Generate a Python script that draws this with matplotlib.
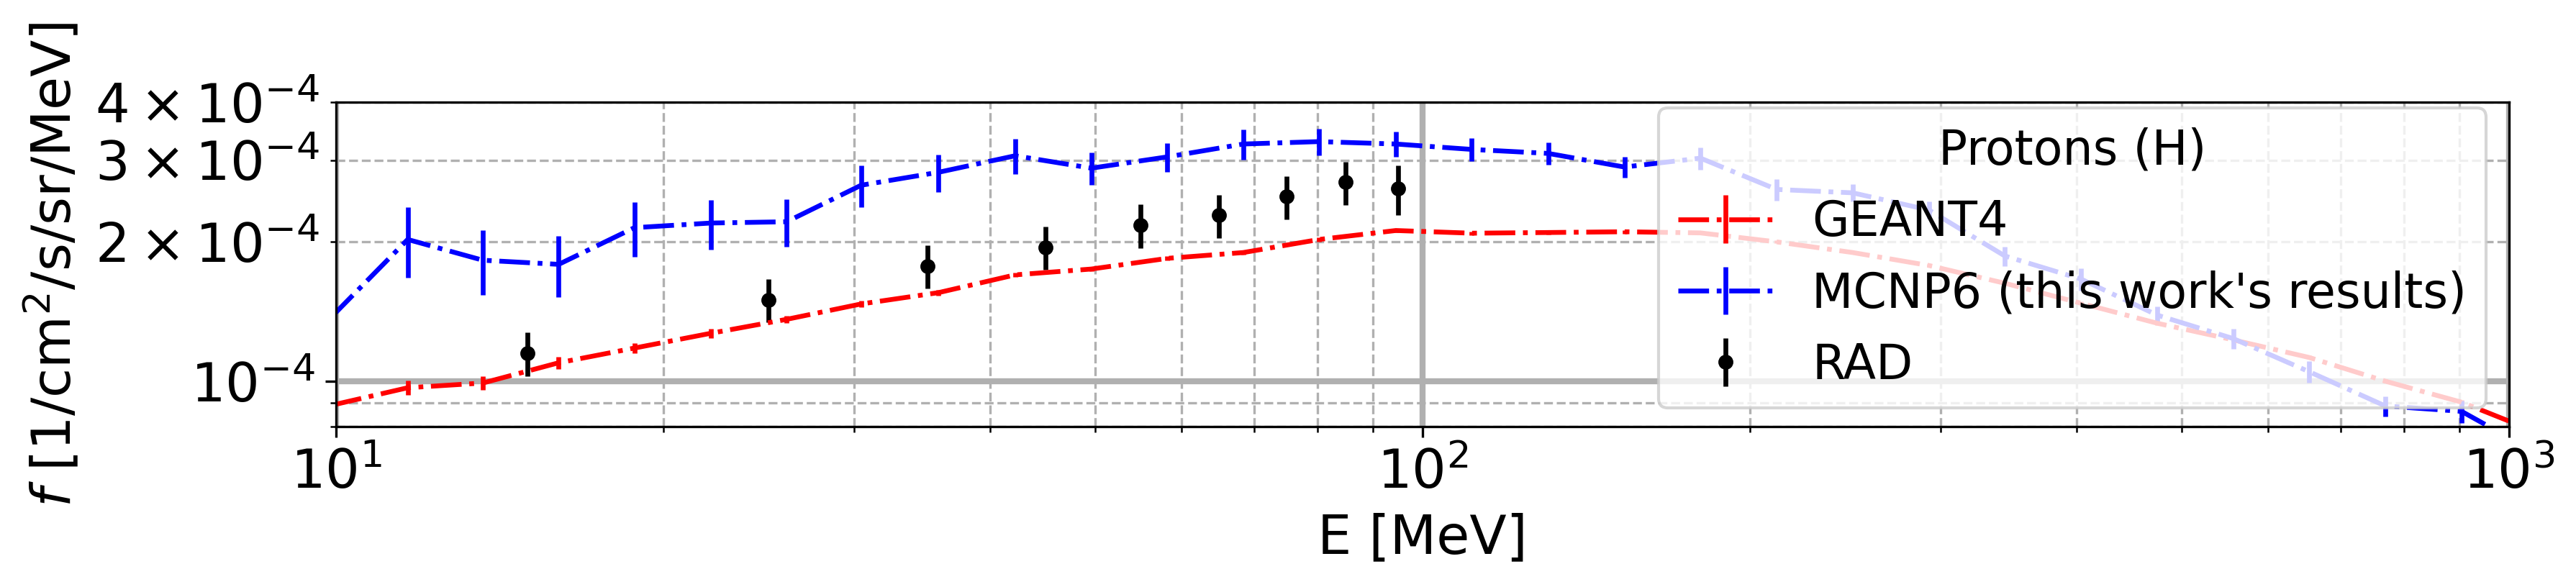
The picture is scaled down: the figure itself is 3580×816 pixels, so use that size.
import matplotlib
matplotlib.use("Agg")
import matplotlib.pyplot as plt
import numpy as np

# Energies [MeV] shared by GEANT4 and MCNP6 curves
energy = [9.9, 11.64, 13.65, 16.03, 18.82, 22.13, 25.99, 30.43, 35.86, 42.17,
          49.57, 58.23, 68.4, 80.32, 94.5, 111.0, 130.5, 153.4, 180.2, 211.8,
          248.8, 292.4, 343.5, 403.7, 474.3, 557.3, 654.8, 769.4, 904.0, 1062.0]

# GEANT4 flux (x1e-4)
geant4 = [0.889, 0.970, 0.993, 1.098, 1.181, 1.271, 1.362, 1.470, 1.555, 1.698,
          1.748, 1.843, 1.897, 2.024, 2.116, 2.088, 2.095, 2.103, 2.091, 2.000,
          1.897, 1.779, 1.629, 1.475, 1.336, 1.230, 1.127, 1.002, 0.903, 0.777]
geant4_err = [0.030, 0.034, 0.035, 0.032, 0.028, 0.030, 0.025, 0.025, 0.022, 0.020,
              0.020, 0.020, 0.020, 0.020, 0.020, 0.018, 0.018, 0.018, 0.018, 0.016,
              0.016, 0.015, 0.014, 0.013, 0.012, 0.011, 0.010, 0.009, 0.009, 0.008]

# MCNP6 flux (x1e-4)
mcnp6 = [1.377, 2.024, 1.826, 1.789, 2.146, 2.196, 2.210, 2.649, 2.825, 3.066,
         2.883, 3.049, 3.250, 3.289, 3.250, 3.164, 3.102, 2.899, 3.030, 2.594,
         2.551, 2.343, 1.865, 1.663, 1.391, 1.238, 1.050, 0.886, 0.863, 0.700]
mcnp6_err = [0.30, 0.35, 0.29, 0.27, 0.29, 0.27, 0.26, 0.27, 0.26, 0.27,
             0.23, 0.22, 0.24, 0.22, 0.20, 0.18, 0.17, 0.15, 0.17, 0.14,
             0.11, 0.10, 0.09, 0.09, 0.06, 0.06, 0.055, 0.045, 0.048, 0.04]

# RAD measurements
rad_energy = [15, 25, 35, 45, 55, 65, 75, 85, 95]
rad = [1.151, 1.501, 1.775, 1.947, 2.171, 2.283, 2.504, 2.690, 2.603]
rad_err = [0.124, 0.160, 0.190, 0.207, 0.235, 0.243, 0.267, 0.285, 0.320]

scale = 1e-4

W, H, DPI = 3580, 816, 300
fig = plt.figure(figsize=(W / DPI, H / DPI), dpi=DPI)
ax = fig.add_axes([467 / W, 1 - 593 / H, 3020 / W, 451 / H])

ax.errorbar(energy, np.array(geant4) * scale, yerr=np.array(geant4_err) * scale,
            fmt='-.', color='red', lw=1.6, label='GEANT4')
ax.errorbar(energy, np.array(mcnp6) * scale, yerr=np.array(mcnp6_err) * scale,
            fmt='-.', color='blue', lw=1.6, label="MCNP6 (this work's results)")
ax.errorbar(rad_energy, np.array(rad) * scale, yerr=np.array(rad_err) * scale,
            fmt='o', color='black', ms=4, lw=1.6, label='RAD')

ax.set_xscale('log')
ax.set_yscale('log')
ax.set_xlim(10, 1000)
ax.set_ylim(8e-5, 4e-4)

ax.grid(True, which='major', color='#b0b0b0', linestyle='-', linewidth=2)
ax.grid(True, which='minor', color='#b0b0b0', linestyle='--', linewidth=0.8)

ax.tick_params(axis='both', which='both', labelsize=18)
ax.set_xlabel('E [MeV]', fontsize=18)
ax.set_ylabel('$f$ [1/cm$^2$/s/sr/MeV]', fontsize=18)

ax.legend(title='Protons (H)', loc='upper right', bbox_to_anchor=(0.9894, 0.9823),
          borderaxespad=0, fontsize=16, title_fontsize=16)

fig.savefig('out.png', dpi=DPI)
